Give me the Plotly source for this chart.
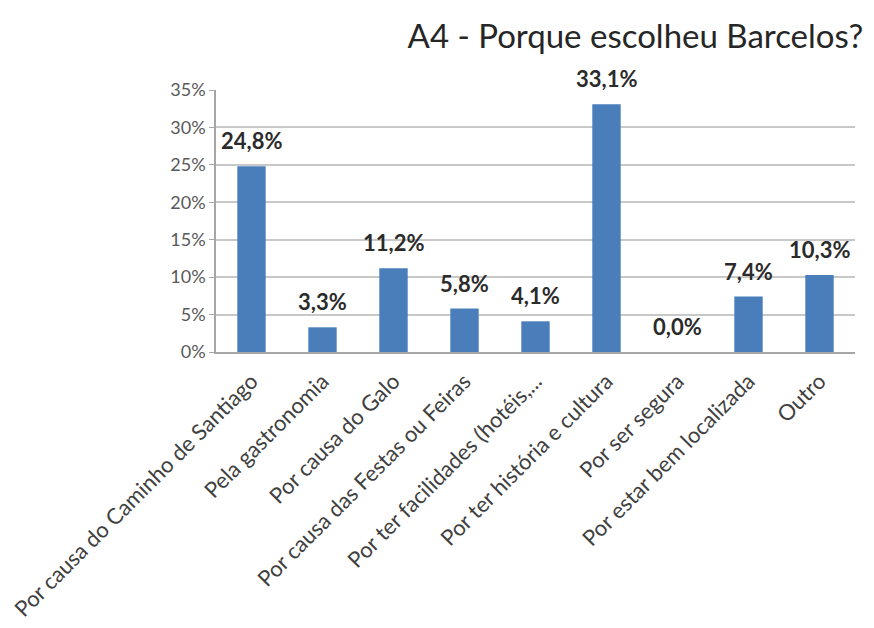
import plotly.graph_objects as go

# Survey answers: reasons for choosing Barcelos
categories = [
    "Por causa do Caminho de Santiago",
    "Pela gastronomia",
    "Por causa do Galo",
    "Por causa das Festas ou Feiras",
    "Por ter facilidades (hotéis,...",
    "Por ter história e cultura",
    "Por ser segura",
    "Por estar bem localizada",
    "Outro",
]
percentages = [24.8, 3.3, 11.2, 5.8, 4.1, 33.1, 0.0, 7.4, 10.3]
y_ticks = [0, 5, 10, 15, 20, 25, 30, 35]
y_tick_labels = [f"{v}%" for v in y_ticks]
title_text = "A4 - Porque escolheu Barcelos?"

font_family = "Lato, 'Open Sans', sans-serif"
bar_color = "#4A7EBB"

fig = go.Figure()
fig.add_trace(go.Bar(
    x=categories,
    y=percentages,
    marker=dict(color=bar_color, line=dict(width=0)),
    width=0.4,
    hoverinfo="skip",
))

# Bold value labels above each bar (including the zero bar)
for cat, val in zip(categories, percentages):
    fig.add_annotation(
        x=cat, y=val, xref="x", yref="y",
        text=f"<b>{val:.1f}%</b>".replace(".", ","),
        showarrow=False, yanchor="bottom", yshift=10,
        font=dict(family=font_family, size=22, color="#2b2b2b"),
    )

fig.update_layout(
    width=874, height=628,
    margin=dict(l=216, r=19, t=90, b=276, autoexpand=False),
    paper_bgcolor="white", plot_bgcolor="white",
    showlegend=False,
    title=dict(
        text=title_text, x=0.727, xanchor="center", y=0.942, yanchor="middle",
        font=dict(family=font_family, size=33, color="#262626"),
    ),
    xaxis=dict(
        tickangle=-45, automargin=False,
        tickfont=dict(family=font_family, size=22, color="#404040"),
        ticklabelstandoff=6,
        showline=True, linecolor="#A6A6A6", linewidth=1.5,
        ticks="", showgrid=False,
    ),
    yaxis=dict(
        range=[0, 35], automargin=False,
        tickvals=y_ticks, ticktext=y_tick_labels,
        tickfont=dict(family=font_family, size=18, color="#595959"),
        showgrid=True, gridcolor="#C8C8C8", gridwidth=1.5,
        showline=True, linecolor="#A6A6A6", linewidth=1.5,
        ticks="outside", ticklen=5, tickcolor="#A6A6A6",
        zeroline=False,
    ),
)

fig.write_html("out.html")
